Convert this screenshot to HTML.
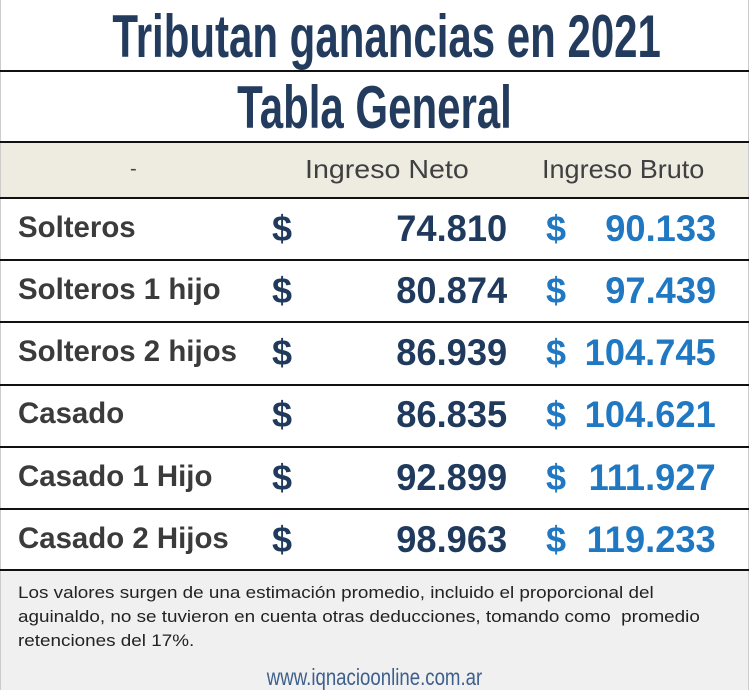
<!DOCTYPE html>
<html><head><meta charset="utf-8"><style>
body{margin:0;width:749px;height:690px;background:#fff;position:relative;overflow:hidden;font-family:"Liberation Sans",sans-serif}
.a{position:absolute;white-space:nowrap}
.line{position:absolute;left:0;width:749px;height:2px;background:#111}
.t{font-weight:bold;color:#233c5e;transform-origin:center;left:0;width:749px;text-align:center}
.lab{left:18px;font-size:30px;font-weight:bold;color:#3b3b3b;transform:scaleX(0.98);transform-origin:left}
.d1{left:272px;font-size:36px;font-weight:bold;color:#1f3a5c}
.n1{right:242px;font-size:37px;font-weight:bold;color:#1f3a5c;transform:scaleX(0.98);transform-origin:right}
.d2{left:546px;font-size:36px;font-weight:bold;color:#1f78c1}
.n2{right:33px;font-size:37px;font-weight:bold;color:#1f78c1;transform:scaleX(0.98);transform-origin:right}
</style></head><body>
<div style="position:absolute;left:0;top:0;width:1px;height:690px;background:#ccc"></div>
<div style="position:absolute;right:0;top:0;width:1px;height:690px;background:#ccc"></div>
<div class="a t" style="top:2px;font-size:60px;transform:scaleX(0.7)">Tributan ganancias en 2021</div>
<div class="line" style="top:70px"></div>
<div class="a t" style="top:73px;font-size:60px;transform:scaleX(0.7)">Tabla General</div>
<div class="line" style="top:141px"></div>
<div style="position:absolute;top:143px;left:1px;width:747px;height:55px;background:#eeebe0"></div>
<div class="a" style="left:130px;top:158px;font-size:20px;color:#444">-</div>
<div class="a" style="left:305px;top:154px;font-size:26px;color:#404040;transform:scaleX(1.1);transform-origin:left">Ingreso Neto</div>
<div class="a" style="left:542px;top:154px;font-size:26px;color:#404040;transform:scaleX(1.04);transform-origin:left">Ingreso Bruto</div>
<div class="line" style="top:197px"></div>

<div class="a lab" style="top:211px">Solteros</div><div class="a d1" style="top:208px">$</div><div class="a n1" style="top:208px">74.810</div><div class="a d2" style="top:208px">$</div><div class="a n2" style="top:208px">90.133</div>
<div class="line" style="top:259px"></div>
<div class="a lab" style="top:273px">Solteros 1 hijo</div><div class="a d1" style="top:270px">$</div><div class="a n1" style="top:270px">80.874</div><div class="a d2" style="top:270px">$</div><div class="a n2" style="top:270px">97.439</div>
<div class="line" style="top:321px"></div>
<div class="a lab" style="top:335px">Solteros 2 hijos</div><div class="a d1" style="top:332px">$</div><div class="a n1" style="top:332px">86.939</div><div class="a d2" style="top:332px">$</div><div class="a n2" style="top:332px">104.745</div>
<div class="line" style="top:384px"></div>
<div class="a lab" style="top:397px">Casado</div><div class="a d1" style="top:394px">$</div><div class="a n1" style="top:394px">86.835</div><div class="a d2" style="top:394px">$</div><div class="a n2" style="top:394px">104.621</div>
<div class="line" style="top:446px"></div>
<div class="a lab" style="top:460px">Casado 1 Hijo</div><div class="a d1" style="top:457px">$</div><div class="a n1" style="top:457px">92.899</div><div class="a d2" style="top:457px">$</div><div class="a n2" style="top:457px">111.927</div>
<div class="line" style="top:508px"></div>
<div class="a lab" style="top:522px">Casado 2 Hijos</div><div class="a d1" style="top:519px">$</div><div class="a n1" style="top:519px">98.963</div><div class="a d2" style="top:519px">$</div><div class="a n2" style="top:519px">119.233</div>
<div class="line" style="top:569px"></div>
<div style="position:absolute;top:571px;left:1px;width:747px;height:119px;background:#f0f0f0"></div>
<div class="a" style="left:18px;top:581px;font-size:17px;line-height:24px;color:#222;transform:scaleX(1.11);transform-origin:left">Los valores surgen de una estimación promedio, incluido el proporcional del<br>aguinaldo, no se tuvieron en cuenta otras deducciones, tomando como&nbsp; promedio<br>retenciones del 17%.</div>
<div class="a" style="left:0;width:749px;text-align:center;top:664px;font-size:23px;color:#3d5f8c;transform:scaleX(0.81);transform-origin:center">www.iqnacioonline.com.ar</div>
</body></html>
